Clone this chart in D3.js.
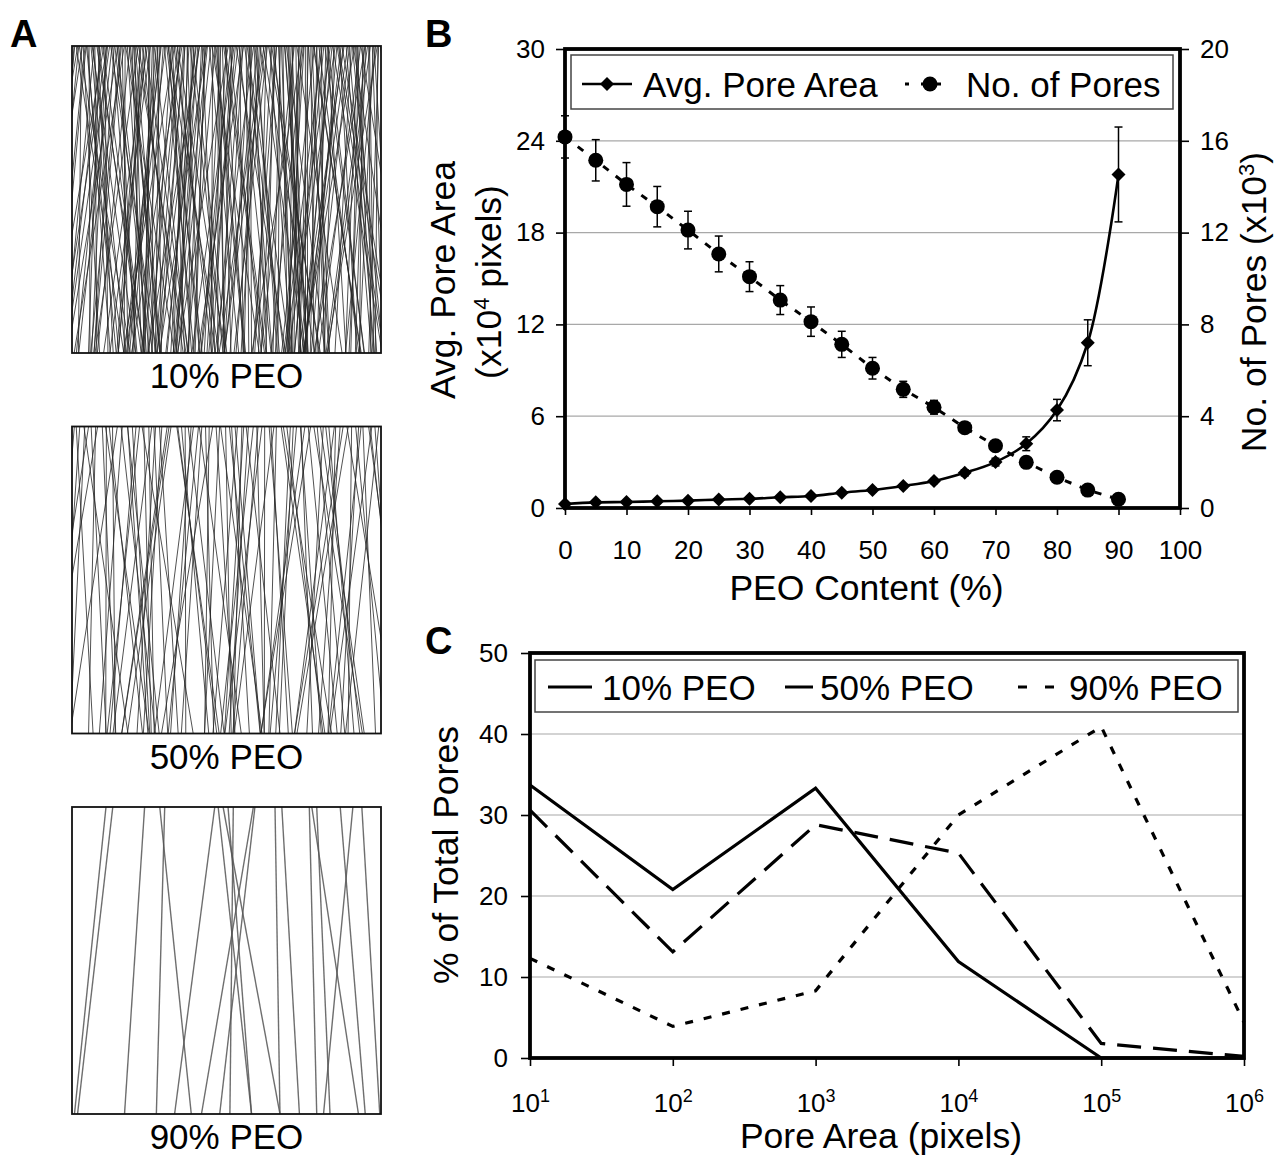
<!DOCTYPE html>
<html>
<head>
<meta charset="utf-8">
<script src="https://cdn.jsdelivr.net/npm/d3@7"></script>
<style>
  body { margin: 0; background: #fff; }
  svg { display: block; font-family: "Liberation Sans", Arial, sans-serif; }
</style>
</head>
<body>
<svg id="fig" width="1285" height="1162"></svg>
<script>
// ---------- data ----------
// panel A: simulated fiber mats
const panelLabels = ['10% PEO', '50% PEO', '90% PEO'];
const fiberCounts = [260, 100]; // dense mats, drawn with a seeded generator
// sparse 90% mat: fraction of width at top / bottom
const sparseTop = [0.110, 0.132, 0.235, 0.284, 0.300, 0.462, 0.473, 0.489, 0.505, 0.522,
  0.587, 0.592, 0.657, 0.679, 0.768, 0.776, 0.792, 0.868, 0.909, 0.938];
const sparseBottom = [0.008, 0.018, 0.170, 0.386, 0.273, 0.332, 0.581, 0.673, 0.581, 0.511,
  0.419, 0.478, 0.673, 0.736, 0.792, 0.927, 0.835, 0.949, 0.814, 0.996];

// panel B
const peoContent = [0, 5, 10, 15, 20, 25, 30, 35, 40, 45, 50, 55, 60, 65, 70, 75, 80, 85, 90];
const avgPoreArea = [0.26, 0.37, 0.39, 0.44, 0.48, 0.55, 0.6, 0.7, 0.78, 1.0,
  1.18, 1.44, 1.76, 2.3, 3.0, 4.2, 6.4, 10.8, 21.8];
const avgPoreAreaErr = [0.05, 0.05, 0.05, 0.05, 0.05, 0.06, 0.07, 0.08, 0.1, 0.1,
  0.12, 0.14, 0.16, 0.2, 0.25, 0.45, 0.7, 1.5, 3.1];
const numPores = [16.17, 15.15, 14.1, 13.13, 12.11, 11.07, 10.08, 9.06, 8.12, 7.13,
  6.09, 5.17, 4.39, 3.5, 2.71, 1.99, 1.34, 0.78, 0.38];
const numPoresErr = [0.92, 0.9, 0.95, 0.88, 0.82, 0.78, 0.65, 0.63, 0.64, 0.57,
  0.47, 0.35, 0.3, 0.2, 0.15, 0.12, 0.1, 0.08, 0.05];
const bXTicks = [0, 10, 20, 30, 40, 50, 60, 70, 80, 90, 100];
const bLeftTicks = [0, 6, 12, 18, 24, 30];
const bRightTicks = [0, 4, 8, 12, 16, 20];

// panel C
const poreArea = [1e1, 1e2, 1e3, 1e4, 1e5, 1e6];
const pct10 = [33.7, 20.8, 33.3, 11.9, 0, 0];
const pct50 = [30.6, 13.1, 28.8, 25.3, 1.8, 0.2];
const pct90 = [12.3, 3.9, 8.3, 30.0, 40.9, 4.4];
const cYTicks = [0, 10, 20, 30, 40, 50];

// ---------- setup ----------
const svg = d3.select('#fig');
const titleSize = 35.5;
const legendSize = 35;
const tickSize = 26;

function panelLetter(t, x, y) {
  svg.append('text').text(t)
    .attr('x', x).attr('y', y)
    .attr('font-size', 38).attr('font-weight', 'bold');
}

// ================= PANEL A =================
panelLetter('A', 10, 47);
const boxX = 72, boxW = 309, boxH = 307;
const boxY = [46, 426.5, 807];

// small seeded generator so the fiber texture is the same every run
function seeded(a) {
  return function() {
    a |= 0; a = a + 0x6D2B79F5 | 0;
    let t = Math.imul(a ^ a >>> 15, 1 | a);
    t = t + Math.imul(t ^ t >>> 7, 61 | t) ^ t;
    return ((t ^ t >>> 14) >>> 0) / 4294967296;
  };
}

const xA = d3.scaleLinear().domain([0, 1]).range([0, boxW]);

boxY.forEach((by, i) => {
  const g = svg.append('g').attr('transform', `translate(${boxX},${by})`);
  g.append('clipPath').attr('id', 'clipA' + i)
    .append('rect').attr('width', boxW).attr('height', boxH);

  let fibers;
  if (i < fiberCounts.length) {
    const n = fiberCounts[i];
    const rnd = seeded(23 + i * 101);
    // stratified: one fiber per slot, jittered inside the slot
    fibers = d3.range(n).map(k => {
      const t = (k + rnd()) / n;
      return { top: t, bottom: t + (rnd() - 0.5) * 0.34 };
    });
  } else {
    fibers = sparseTop.map((t, k) => ({ top: t, bottom: sparseBottom[k] }));
  }

  g.append('g').attr('clip-path', `url(#clipA${i})`)
    .selectAll('line')
    .data(fibers)
    .enter()
    .append('line')
    .attr('x1', d => xA(d.top)).attr('y1', 0)
    .attr('x2', d => xA(d.bottom)).attr('y2', boxH)
    .attr('stroke', i < 2 ? '#262626' : '#555')
    .attr('stroke-width', i < 2 ? 0.95 : 1.4)
    .attr('stroke-opacity', 0.85);

  g.append('rect').attr('width', boxW).attr('height', boxH)
    .attr('fill', 'none').attr('stroke', '#111').attr('stroke-width', 1.8);

  g.append('text').text(panelLabels[i])
    .attr('x', boxW / 2).attr('y', boxH + 35)
    .attr('text-anchor', 'middle').attr('font-size', legendSize);
});

// ================= PANEL B =================
panelLetter('B', 425, 47);
const B = { left: 565, right: 1180, top: 49, bottom: 508 };
const xB = d3.scaleLinear().domain([0, 100]).range([B.left, B.right]);
const yBL = d3.scaleLinear().domain([0, 30]).range([B.bottom, B.top]);
const yBR = d3.scaleLinear().domain([0, 20]).range([B.bottom, B.top]);

// gridlines
svg.append('g').selectAll('line')
  .data(bLeftTicks.slice(1, -1))
  .enter().append('line')
  .attr('x1', B.left).attr('x2', B.right)
  .attr('y1', d => yBL(d)).attr('y2', d => yBL(d))
  .attr('stroke', '#a8a8a8').attr('stroke-width', 1.2);

function styleAxis(g) {
  g.attr('font-size', tickSize).attr('font-family', null);
  g.select('.domain').remove();
  g.selectAll('.tick line').attr('stroke', '#000').attr('stroke-width', 1.6);
}

svg.append('g').attr('transform', `translate(${B.left},0)`)
  .call(d3.axisLeft(yBL).tickValues(bLeftTicks).tickSize(9).tickPadding(11))
  .call(styleAxis);
svg.append('g').attr('transform', `translate(${B.right},0)`)
  .call(d3.axisRight(yBR).tickValues(bRightTicks).tickSize(9).tickPadding(11))
  .call(styleAxis);
svg.append('g').attr('transform', `translate(0,${B.bottom})`)
  .call(d3.axisBottom(xB).tickValues(bXTicks).tickSize(7).tickPadding(26))
  .call(styleAxis);

svg.append('rect')
  .attr('x', B.left).attr('y', B.top)
  .attr('width', B.right - B.left).attr('height', B.bottom - B.top)
  .attr('fill', 'none').attr('stroke', '#000').attr('stroke-width', 3.8);

// axis titles
svg.append('text').text('Avg. Pore Area')
  .attr('transform', 'translate(455,280) rotate(-90)')
  .attr('text-anchor', 'middle').attr('font-size', titleSize);
const t2 = svg.append('text')
  .attr('transform', 'translate(501,282) rotate(-90)')
  .attr('text-anchor', 'middle').attr('font-size', titleSize);
t2.append('tspan').text('(x10');
t2.append('tspan').text('4').attr('font-size', 22).attr('dy', -12);
t2.append('tspan').text(' pixels)').attr('dy', 12);

const t3 = svg.append('text')
  .attr('transform', 'translate(1266,302) rotate(-90)')
  .attr('text-anchor', 'middle').attr('font-size', titleSize);
t3.append('tspan').text('No. of Pores (x10');
t3.append('tspan').text('3').attr('font-size', 22).attr('dy', -12);
t3.append('tspan').text(')').attr('dy', 12);

svg.append('text').text('PEO Content (%)')
  .attr('x', (B.left + B.right) / 2 - 6).attr('y', 600)
  .attr('text-anchor', 'middle').attr('font-size', titleSize);

// series
const bArea = peoContent.map((x, i) => ({ x, y: avgPoreArea[i], e: avgPoreAreaErr[i] }));
const bPores = peoContent.map((x, i) => ({ x, y: numPores[i], e: numPoresErr[i] }));

function errorBars(data, yScale) {
  const g = svg.append('g').attr('stroke', '#000').attr('stroke-width', 1.5);
  data.forEach(d => {
    const cx = xB(d.x), y1 = yScale(d.y - d.e), y2 = yScale(d.y + d.e);
    g.append('line').attr('x1', cx).attr('x2', cx).attr('y1', y1).attr('y2', y2);
    g.append('line').attr('x1', cx - 4).attr('x2', cx + 4).attr('y1', y1).attr('y2', y1);
    g.append('line').attr('x1', cx - 4).attr('x2', cx + 4).attr('y1', y2).attr('y2', y2);
  });
}

errorBars(bPores, yBR);
errorBars(bArea, yBL);

svg.append('path')
  .datum(bPores)
  .attr('d', d3.line().x(d => xB(d.x)).y(d => yBR(d.y)))
  .attr('fill', 'none').attr('stroke', '#000')
  .attr('stroke-width', 3).attr('stroke-dasharray', '7,9');

svg.append('path')
  .datum(bArea)
  .attr('d', d3.line().curve(d3.curveCatmullRom).x(d => xB(d.x)).y(d => yBL(d.y)))
  .attr('fill', 'none').attr('stroke', '#000').attr('stroke-width', 2.6);

svg.append('g').selectAll('circle')
  .data(bPores).enter().append('circle')
  .attr('cx', d => xB(d.x)).attr('cy', d => yBR(d.y)).attr('r', 7.5)
  .attr('fill', '#000');

const diamond = r => `M0,${-r}L${r},0L0,${r}L${-r},0Z`;
svg.append('g').selectAll('path')
  .data(bArea).enter().append('path')
  .attr('d', diamond(7))
  .attr('transform', d => `translate(${xB(d.x)},${yBL(d.y)})`)
  .attr('fill', '#000');

// legend B
svg.append('rect')
  .attr('x', 571).attr('y', 55).attr('width', 602).attr('height', 54)
  .attr('fill', '#fff').attr('stroke', '#444').attr('stroke-width', 1.5);
svg.append('line').attr('x1', 582).attr('x2', 632).attr('y1', 84).attr('y2', 84)
  .attr('stroke', '#000').attr('stroke-width', 2.6);
svg.append('path').attr('d', diamond(7)).attr('transform', 'translate(607,84)');
svg.append('text').text('Avg. Pore Area')
  .attr('x', 643).attr('y', 97).attr('font-size', legendSize);
svg.append('line').attr('x1', 905).attr('x2', 947).attr('y1', 84).attr('y2', 84)
  .attr('stroke', '#000').attr('stroke-width', 3).attr('stroke-dasharray', '4,12');
svg.append('circle').attr('cx', 930).attr('cy', 84).attr('r', 7.5);
svg.append('text').text('No. of Pores')
  .attr('x', 966).attr('y', 97).attr('font-size', legendSize);

// ================= PANEL C =================
panelLetter('C', 425, 654);
const C = { left: 530, right: 1244, top: 653, bottom: 1058 };
const xC = d3.scaleLog().domain([1e1, 1e6]).range([C.left, C.right]);
const yC = d3.scaleLinear().domain([0, 50]).range([C.bottom, C.top]);

svg.append('g').selectAll('line')
  .data(cYTicks.slice(1, -1))
  .enter().append('line')
  .attr('x1', C.left).attr('x2', C.right)
  .attr('y1', d => yC(d)).attr('y2', d => yC(d))
  .attr('stroke', '#a8a8a8').attr('stroke-width', 1.2);

svg.append('g').attr('transform', `translate(${C.left},0)`)
  .call(d3.axisLeft(yC).tickValues(cYTicks).tickSize(9).tickPadding(13))
  .call(styleAxis);

const xAxisC = svg.append('g').attr('transform', `translate(0,${C.bottom})`)
  .call(d3.axisBottom(xC).tickValues(poreArea).tickSize(8).tickPadding(28).tickFormat(''))
  .call(styleAxis);
xAxisC.selectAll('.tick text').each(function(d) {
  const t = d3.select(this).attr('dy', '0.71em');
  t.append('tspan').text('10');
  t.append('tspan').text(Math.round(Math.log10(d)))
    .attr('font-size', 18).attr('dy', -10);
});

svg.append('rect')
  .attr('x', C.left).attr('y', C.top)
  .attr('width', C.right - C.left).attr('height', C.bottom - C.top)
  .attr('fill', 'none').attr('stroke', '#000').attr('stroke-width', 3.8);

svg.append('text').text('% of Total Pores')
  .attr('transform', 'translate(458,855) rotate(-90)')
  .attr('text-anchor', 'middle').attr('font-size', titleSize);
svg.append('text').text('Pore Area (pixels)')
  .attr('x', 881).attr('y', 1148)
  .attr('text-anchor', 'middle').attr('font-size', titleSize);

const cSeries = [
  { name: '10% PEO', values: pct10, dash: null },
  { name: '50% PEO', values: pct50, dash: '24,12' },
  { name: '90% PEO', values: pct90, dash: '8,11' }
];
const lineC = d3.line().x(d => xC(d.x)).y(d => yC(d.y));
cSeries.forEach(s => {
  svg.append('path')
    .datum(poreArea.map((x, i) => ({ x, y: s.values[i] })))
    .attr('d', lineC)
    .attr('fill', 'none').attr('stroke', '#000').attr('stroke-width', 3.2)
    .attr('stroke-dasharray', s.dash);
});

// legend C
svg.append('rect')
  .attr('x', 535).attr('y', 660).attr('width', 703).attr('height', 52)
  .attr('fill', '#fff').attr('stroke', '#444').attr('stroke-width', 1.5);
const legC = [
  { x1: 548, x2: 592, dash: null, tx: 602 },
  { x1: 772, x2: 813, dash: '0,13,28', tx: 820 },
  { x1: 1018, x2: 1054, dash: '9,18', tx: 1069 }
];
legC.forEach((l, i) => {
  svg.append('line').attr('x1', l.x1).attr('x2', l.x2).attr('y1', 687).attr('y2', 687)
    .attr('stroke', '#000').attr('stroke-width', 3.2).attr('stroke-dasharray', l.dash);
  svg.append('text').text(cSeries[i].name)
    .attr('x', l.tx).attr('y', 700).attr('font-size', legendSize);
});
</script>
</body>
</html>
